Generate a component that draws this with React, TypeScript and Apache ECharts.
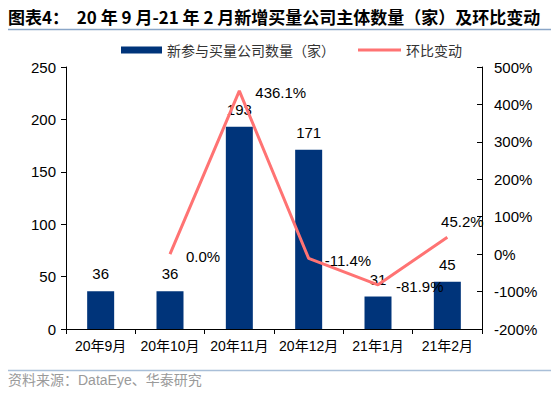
import React, { useEffect, useRef } from "react";
import * as echarts from "echarts";

const categories = ["20年9月", "20年10月", "20年11月", "20年12月", "21年1月", "21年2月"];
const companyCounts = [36, 36, 193, 171, 31, 45];
const momChange: (number | null)[] = [null, 0.0, 436.1, -11.4, -81.9, 45.2];
const leftTicks = { min: 0, max: 250, interval: 50 };
const rightTicks = { min: -200, max: 500, interval: 100 };

const barName = "新参与买量公司数量（家）";
const lineName = "环比变动";
const titleText = "图表4：  20 年 9 月-21 年 2 月新增买量公司主体数量（家）及环比变动";
const sourceText = "资料来源：DataEye、华泰研究";

const FONT = "'Liberation Sans', Arial, 'Noto Sans CJK SC', sans-serif";
const BAR_COLOR = "#00347a";
const LINE_COLOR = "#ff7373";

export default function App() {
  const ref = useRef<HTMLDivElement>(null);
  useEffect(() => {
    if (!ref.current) return;
    const chart = echarts.init(ref.current, null, { renderer: "svg" });

    const lineLabelPos: any[] = [
      null,
      { position: "right", distance: 16, offset: [0, 2] },
      { position: "right", distance: 16, offset: [0, 2] },
      { position: "right", distance: 16, offset: [0, 2] },
      { position: "right", distance: 18, offset: [0, 2] },
      { position: "top", distance: 8, offset: [15, 0] },
    ];

    const lineData = momChange.map((v, i) =>
      v === null
        ? "-"
        : {
            value: v,
            label: {
              show: true,
              ...lineLabelPos[i],
              formatter: (p: any) => Number(p.value).toFixed(1) + "%",
              fontSize: 15,
              color: "#000",
              fontFamily: FONT,
            },
          }
    );

    chart.setOption({
      animation: false,
      textStyle: { fontFamily: FONT },
      grid: { left: 66, right: 77, top: 67, bottom: 64 },
      graphic: [
        {
          type: "text",
          left: 8,
          top: 8,
          style: {
            text: titleText,
            fontSize: 17,
            fontWeight: "bold",
            fill: "#000",
            fontFamily: "'Noto Sans CJK SC', 'Liberation Sans', sans-serif",
          },
        },
        {
          type: "line",
          shape: { x1: 8, y1: 29.5, x2: 551, y2: 29.5 },
          style: { stroke: "#8aa6c8", lineWidth: 1.5 },
        },
        {
          type: "line",
          shape: { x1: 8, y1: 370.5, x2: 551, y2: 370.5 },
          style: { stroke: "#a9bfd8", lineWidth: 1.5 },
        },
        {
          type: "text",
          left: 8,
          top: 373,
          style: {
            text: sourceText,
            fontSize: 14,
            fill: "#9a9a9a",
            fontFamily: "'Liberation Sans', 'Noto Sans CJK SC', sans-serif",
          },
        },
      ],
      legend: [
        {
          data: [{ name: barName, icon: "rect" }],
          left: 116,
          top: 38,
          itemWidth: 41,
          itemHeight: 7,
          textStyle: { fontSize: 14, color: "#333", fontFamily: "'Noto Sans CJK SC', sans-serif" },
        },
        {
          data: [{ name: lineName, icon: "rect" }],
          left: 353,
          top: 38,
          itemWidth: 43,
          itemHeight: 3,
          textStyle: { fontSize: 14, color: "#333", fontFamily: "'Noto Sans CJK SC', sans-serif" },
        },
      ],
      xAxis: {
        type: "category",
        data: categories,
        axisLine: { lineStyle: { color: "#000", width: 1 } },
        axisTick: { show: true, lineStyle: { color: "#000" }, length: 5 },
        axisLabel: {
          color: "#000",
          fontSize: 14,
          margin: 10,
          interval: 0,
          fontFamily: FONT,
        },
      },
      yAxis: [
        {
          type: "value",
          min: leftTicks.min,
          max: leftTicks.max,
          interval: leftTicks.interval,
          axisLine: { show: true, lineStyle: { color: "#000" } },
          axisTick: { show: true, lineStyle: { color: "#000" }, length: 5 },
          splitLine: { show: false },
          axisLabel: { color: "#000", fontSize: 15, margin: 10, fontFamily: FONT },
        },
        {
          type: "value",
          min: rightTicks.min,
          max: rightTicks.max,
          interval: rightTicks.interval,
          position: "right",
          axisLine: { show: true, lineStyle: { color: "#000" } },
          axisTick: { show: true, inside: true, lineStyle: { color: "#000" }, length: 5 },
          splitLine: { show: false },
          axisLabel: {
            color: "#000",
            fontSize: 15,
            margin: 12,
            formatter: (v: number) => v + "%",
            fontFamily: FONT,
          },
        },
      ],
      series: [
        {
          name: barName,
          type: "bar",
          data: companyCounts,
          barWidth: 27,
          itemStyle: { color: BAR_COLOR },
          label: {
            show: true,
            position: "top",
            distance: 10,
            fontSize: 15,
            color: "#000",
            fontFamily: FONT,
          },
        },
        {
          name: lineName,
          type: "line",
          yAxisIndex: 1,
          data: lineData,
          symbol: "circle",
          symbolSize: 0.01,
          showSymbol: true,
          lineStyle: { color: LINE_COLOR, width: 3 },
          itemStyle: { color: LINE_COLOR },
          z: 3,
        },
      ],
    });
    return () => chart.dispose();
  }, []);
  return (
    <div
      ref={ref}
      style={{ position: "fixed", left: 0, top: 0, width: 559, height: 393, background: "#fff" }}
    />
  );
}
